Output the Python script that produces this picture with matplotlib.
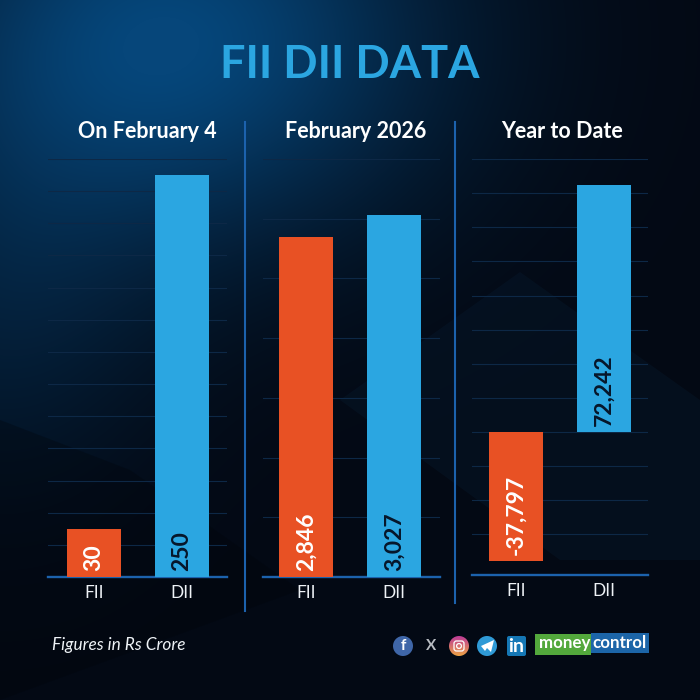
import matplotlib
matplotlib.use("Agg")
import matplotlib.pyplot as plt
from matplotlib.lines import Line2D
from matplotlib.patches import Circle, FancyBboxPatch, Polygon, Rectangle
import numpy as np

# значения в Rs Crore
categories = ["FII", "DII"]
panel_titles = ["On February 4", "February 2026", "Year to Date"]
on_feb4 = [30, 250]
feb_2026 = [2846, 3027]
year_to_date = [-37797, 72242]
value_labels_feb4 = ["30", "250"]
value_labels_month = ["2,846", "3,027"]
value_labels_ytd = ["-37,797", "72,242"]
grid_feb4 = np.arange(20, 261, 20)
grid_month = np.arange(500, 3501, 500)
grid_ytd = np.arange(-30000, 80001, 10000)

ORANGE = "#e85124"
BLUE = "#2ba6e1"
DARK = "#06162a"
LINE = "#1c62ad"
GRID = "#0d2846"
FONT = "Lato"

plt.rcParams["font.family"] = [FONT, "DejaVu Sans"]

fig = plt.figure(figsize=(7, 7), dpi=100)


def px_x(x):
    return x / 700


def px_y(y):
    return 1 - y / 700


# фон
bg = fig.add_axes([0, 0, 1, 1], zorder=0)
bg.set_xlim(0, 700)
bg.set_ylim(700, 0)
bg.axis("off")
yy, xx = np.mgrid[0:700, 0:700]
glow = np.exp(-(((xx - 170) / 260) ** 2 + ((yy - 40) / 200) ** 2))
glow2 = np.exp(-(((xx - 0) / 160) ** 2 + ((yy - 300) / 200) ** 2))
amount = np.clip(glow + 0.3 * glow2, 0, 1)[..., None]
base = np.array([3, 9, 20]) / 255
light = np.array([6, 70, 122]) / 255
image = base + (light - base) * amount
bg.imshow(image, extent=(0, 700, 700, 0), aspect="auto", zorder=0)
bg.add_patch(Polygon([(340, 400), (520, 272), (700, 400), (700, 560), (560, 560)],
                     closed=True, fc="#0a2036", ec="none", alpha=0.28, zorder=1))
bg.add_patch(Polygon([(0, 420), (130, 470), (300, 590), (0, 700)],
                     closed=True, fc="#010409", ec="none", alpha=0.3, zorder=1))


def panel(left, right, center, values, labels, grid_vals, y_low, y_high, base_y, title, title_x):
    top_y = 159
    ax = fig.add_axes([px_x(left), px_y(base_y), px_x(right - left), (base_y - top_y) / 700], zorder=2)
    ax.patch.set_alpha(0)
    x = np.arange(len(categories))
    colors = [ORANGE, BLUE]
    ax.bar(x, values, width=54 / 88, color=colors, zorder=3)
    ax.set_xlim((left - center) / 88, (right - center) / 88)
    ax.set_ylim(y_low, y_high)
    ax.set_yticks(grid_vals)
    ax.tick_params(axis="y", left=False, labelleft=False)
    ax.grid(axis="y", color=GRID, lw=0.8, zorder=1)
    ax.set_xticks(x, categories)
    ax.tick_params(axis="x", length=0, pad=6, labelsize=12.5, colors="#eef2f6")
    for side in ["top", "left", "right"]:
        ax.spines[side].set_visible(False)
    ax.spines["bottom"].set_color(LINE)
    ax.spines["bottom"].set_linewidth(1.7)
    for i, (val, lab) in enumerate(zip(values, labels)):
        anchor = min(val, 0)
        ax.annotate(lab, (i, anchor), xytext=(0, 4.3), textcoords="offset points",
                    rotation=90, ha="center", va="bottom", fontsize=16.5, fontweight="bold",
                    color="white" if i == 0 else DARK, zorder=4)
    fig.text(px_x(title_x), px_y(131), title, color="white", fontsize=15.5, fontweight="bold",
             ha="center", va="center", zorder=5)
    return ax


panel(48, 227, 94, on_feb4, value_labels_feb4, grid_feb4, 0, 260, 577, panel_titles[0], 147)
panel(263, 440, 306, feb_2026, value_labels_month, grid_month, 0, 3500, 577, panel_titles[1], 356)
panel(472, 648, 516, year_to_date, value_labels_ytd, grid_ytd, -41900, 80000, 575, panel_titles[2], 562)

# разделители
over = fig.add_axes([0, 0, 1, 1], zorder=6)
over.axis("off")
over.patch.set_alpha(0)
over.add_line(Line2D([245, 245], [122, 611], color=LINE, lw=1.5))
over.add_line(Line2D([455, 455], [122, 603], color=LINE, lw=1.5))

fig.text(0.5, px_y(65), "FII DII DATA", color=BLUE, fontsize=32.5, fontweight="bold",
         ha="center", va="center", zorder=7)
fig.text(px_x(52), px_y(645), "Figures in Rs Crore", color="#eef2f6", fontsize=12.4, style="italic",
         ha="left", va="center", zorder=7)

# значки соцсетей
over.add_patch(Circle((403, 646), 10, fc="#3f66a8", ec="none"))
over.text(403, 646.5, "f", color="white", fontsize=11, fontweight="bold", ha="center", va="center")
over.text(431, 646, "X", color="#b8bcc2", fontsize=11, fontweight="bold", ha="center", va="center")
insta = np.linspace(0, 1, 20)[:, None, None] * (np.array([236, 160, 70]) - np.array([190, 60, 150])) / 255 \
    + np.array([190, 60, 150]) / 255
insta_img = over.imshow(insta, extent=(449, 469, 656, 636), aspect="auto", zorder=2)
insta_img.set_clip_path(Circle((459, 646), 10, transform=over.transData))
over.add_patch(FancyBboxPatch((454, 641), 10, 10, boxstyle="round,pad=0,rounding_size=2.5",
                              fc="none", ec="white", lw=0.9, zorder=3))
over.add_patch(Circle((459, 646), 2.4, fc="none", ec="white", lw=0.9, zorder=3))
over.add_patch(Circle((487, 646), 10, fc="#2f9ad6", ec="none"))
over.add_patch(Polygon([(481, 646), (494, 640), (491, 652), (487, 648), (485, 651)],
                       closed=True, fc="white", ec="none"))
over.add_patch(FancyBboxPatch((507, 636), 19, 20, boxstyle="round,pad=0,rounding_size=2",
                              fc="#1577b5", ec="none"))
over.text(516.5, 646, "in", color="white", fontsize=14, fontweight="bold", ha="center", va="center")

# логотип
over.add_patch(Rectangle((535, 634), 56, 21, fc="#53a83c", ec="none"))
over.add_patch(Rectangle((591, 633), 58, 20, fc="#1c65a8", ec="none"))
over.text(590.5, 643, "money", color="white", fontsize=12.2, fontweight="bold", ha="right", va="center")
over.text(592, 643, "control", color="white", fontsize=12.2, fontweight="bold", ha="left", va="center")

over.set_xlim(0, 700)
over.set_ylim(700, 0)

fig.savefig("out.png", dpi=100)
